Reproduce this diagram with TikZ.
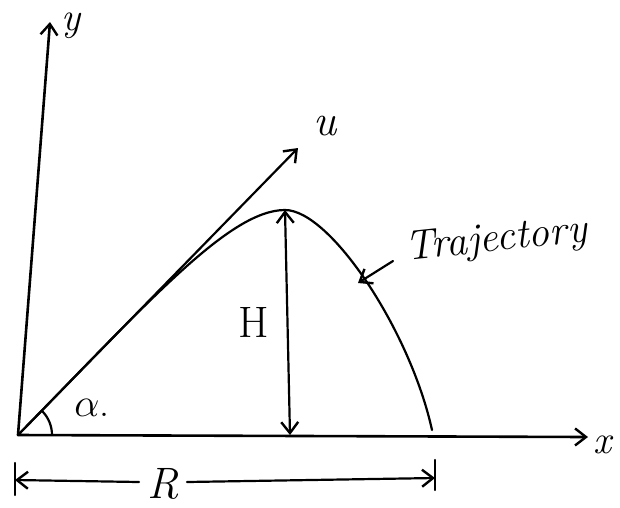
\documentclass[tikz,border=0pt]{standalone}
\usepackage{fix-cm}
\usetikzlibrary{arrows.meta}
\begin{document}
\begin{tikzpicture}[x=1pt,y=-1pt,
  >={Straight Barb[length=11pt,width=17pt,line width=2.4pt]},
  ln/.style={line width=2.6pt,line cap=round,line join=round},
  lbl/.style={font=\fontsize{40}{42}\selectfont\itshape,inner sep=0pt}]
\useasboundingbox (0,0) rectangle (620,507);
\coordinate (O) at (18,435);
\coordinate (Yend) at (50,22);
\coordinate (Xend) at (588,437);
\coordinate (Uend) at (298,148);
\coordinate (P) at (285,210);
\coordinate (L) at (432,430);
\coordinate (Hb) at (290,435);
% axes
\draw[ln,->] (O) -- (Yend);
\draw[ln,->] (O) -- (Xend);
\node[lbl] (ylab) at (71,26) {y};
\node[lbl,font=\fontsize{40}{42}\selectfont\itshape] (xlab) at (602,445) {x};
% velocity
\draw[ln,line width=2.2pt,->] (O) -- (Uend);
\node[lbl,font=\fontsize{44}{46}\selectfont\itshape] (ulab) at (325,126) {u};
% trajectory
\draw[ln,line width=2.2pt] (O) .. controls (150,300) and (230,210) .. (P)
   .. controls (330,210) and (410,330) .. (L);
% H
\draw[ln,line width=2.2pt,<->] (P) -- (Hb);
\node[lbl,font=\fontsize{44}{46}\selectfont] (hlab) at (254,322) {H};
% trajectory label
\node[lbl,font=\fontsize{42}{44}\selectfont\itshape,rotate=6] (tlab) at (496,241) {Trajectory};
\coordinate (Tp) at (358,283);
\draw[ln,line width=2.2pt,->] (393,261) -- (Tp);
% alpha
\draw[ln,line width=2.2pt] ([shift={(0:34)}]O) arc[start angle=0,end angle=-44,radius=34];
\node[lbl,font=\fontsize{40}{42}\selectfont] (alab) at (92,408) {$\alpha$.};
% R
\coordinate (Rl) at (15,480);
\coordinate (Rr) at (435,478);
\draw[ln,line width=2.4pt] (15,463) -- (15,495);
\draw[ln,line width=2.4pt] (435,460) -- (435,490);
\node[lbl,font=\fontsize{44}{46}\selectfont\itshape] (rlab) at (163,484) {R};
\draw[ln,line width=2.2pt,->] (rlab.west) ++(-8,-2) -- (Rl);
\draw[ln,line width=2.2pt,->] (rlab.east) ++(8,-2) -- (Rr);
\end{tikzpicture}
\end{document}
